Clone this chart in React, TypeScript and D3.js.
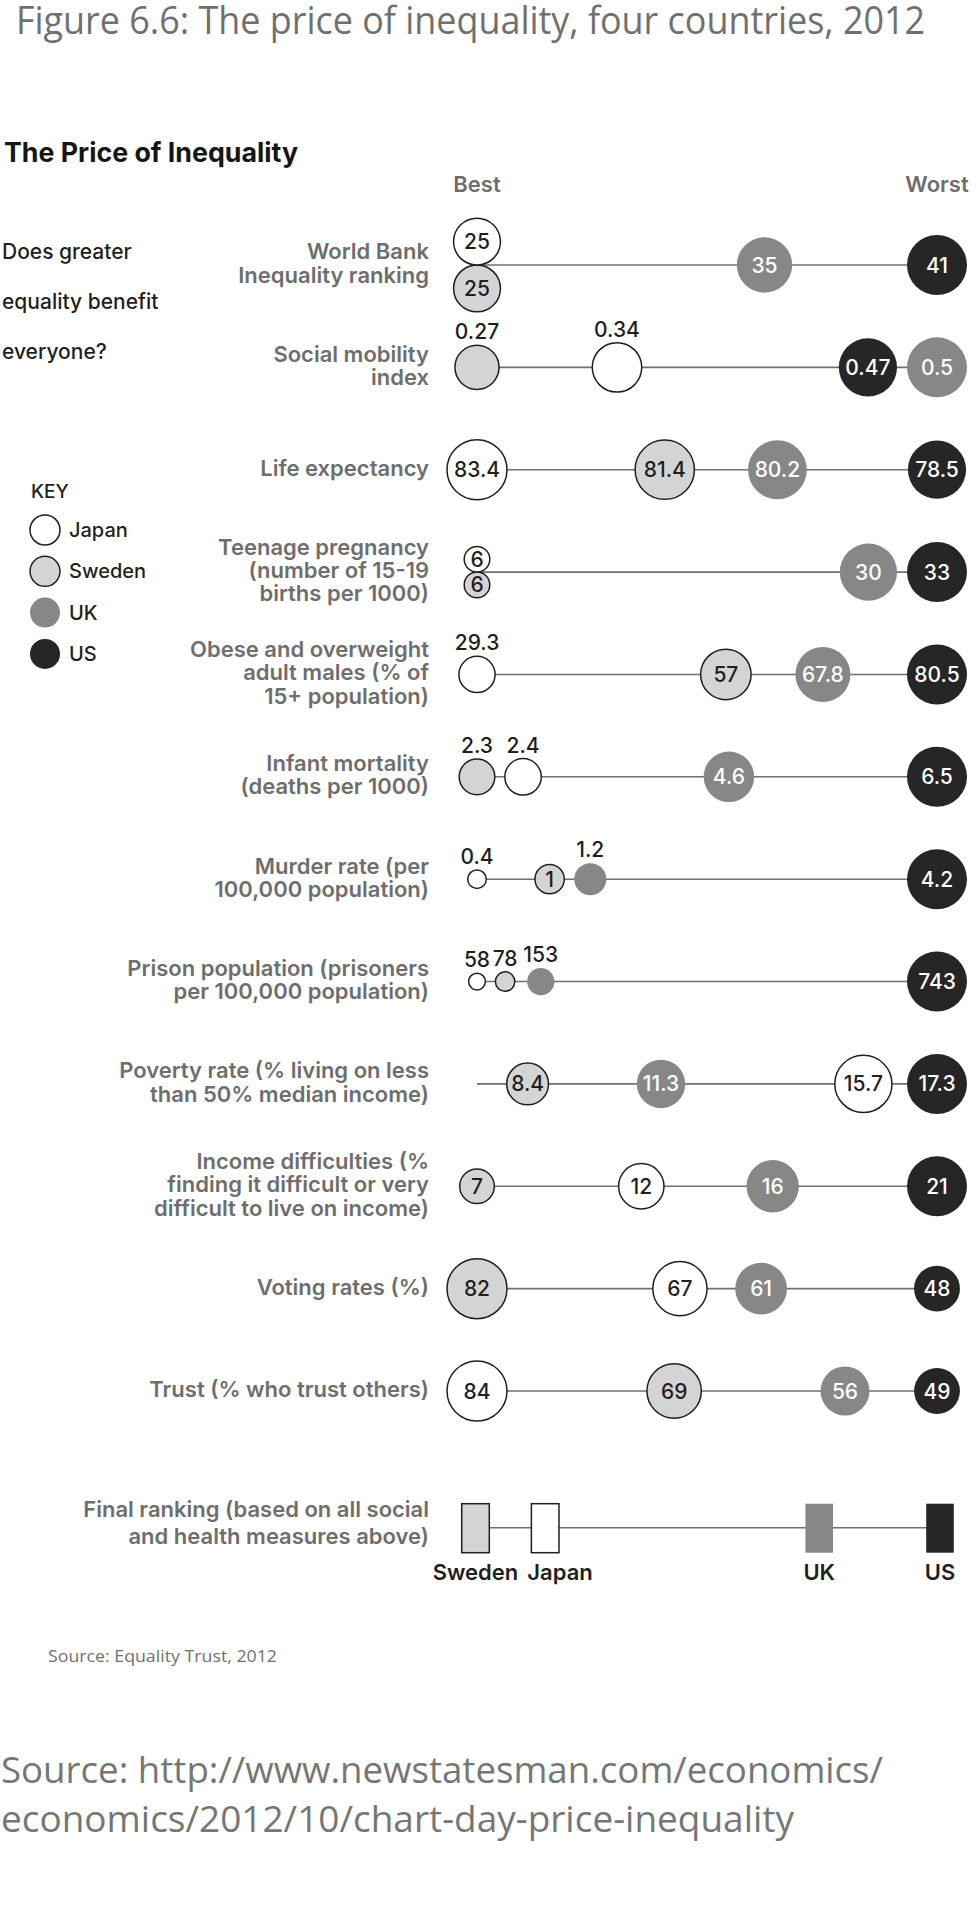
import { useEffect, useRef } from "react";
import * as d3 from "d3";

const W = 977;
const H = 1920;

// --- data ---------------------------------------------------------------
const COUNTRIES = ["Japan", "Sweden", "UK", "US"];

const MEASURES = [
  "worldBank", "mobility", "life", "teen", "obese", "infant",
  "murder", "prison", "poverty", "income", "voting", "trust",
];

const MEASURE_LABELS: string[][] = [
  ["World Bank", "Inequality ranking"],
  ["Social mobility", "index"],
  ["Life expectancy"],
  ["Teenage pregnancy", "(number of 15-19", "births per 1000)"],
  ["Obese and overweight", "adult males (% of", "15+ population)"],
  ["Infant mortality", "(deaths per 1000)"],
  ["Murder rate (per", "100,000 population)"],
  ["Prison population (prisoners", "per 100,000 population)"],
  ["Poverty rate (% living on less", "than 50% median income)"],
  ["Income difficulties (%", "finding it difficult or very", "difficult to live on income)"],
  ["Voting rates (%)"],
  ["Trust (% who trust others)"],
];

const JAPAN  = [25, 0.34, 83.4, 6, 29.3, 2.4, 0.4, 58, 15.7, 12, 67, 84];
const SWEDEN = [25, 0.27, 81.4, 6, 57, 2.3, 1, 78, 8.4, 7, 82, 69];
const UK     = [35, 0.5, 80.2, 30, 67.8, 4.6, 1.2, 153, 11.3, 16, 61, 56];
const US     = [41, 0.47, 78.5, 33, 80.5, 6.5, 4.2, 743, 17.3, 21, 48, 49];

const HIGHER_IS_BETTER = ["life", "voting", "trust"];
// the poverty line starts a bit before Sweden's 8.4
const AXIS_BEST: Record<string, number> = { poverty: 7.3 };

const FINAL_LABEL = ["Final ranking (based on all social", "and health measures above)"];
// rough composite position of each country (Japan, Sweden, UK, US), 0 = best
const FINAL_SCORE = [15, 0, 74, 100];

const QUESTION = ["Does greater", "equality benefit", "everyone?"];

// --- styles -------------------------------------------------------------
const FILL: Record<string, string> = { Japan: "#ffffff", Sweden: "#d4d4d4", UK: "#878787", US: "#262626" };
const STROKE: Record<string, string> = { Japan: "#1f1f1f", Sweden: "#1f1f1f", UK: "none", US: "none" };
const INK: Record<string, string> = { Japan: "#1f1f1f", Sweden: "#1f1f1f", UK: "#ffffff", US: "#ffffff" };
const DRAW_ORDER = ["Sweden", "Japan", "UK", "US"];

const SANS = "Inter, 'Noto Sans', sans-serif";
const MYRIAD = "'Open Sans', 'Noto Sans', sans-serif";
const GREY = "#6e6e6e";
const DARK = "#1f1f1f";

const X0 = 477;
const X1 = 937;
const R_MAX = 30;
const LABEL_RIGHT = 429;
const NUM_SIZE = 21;
const GAP = 10;

// approximate width of a number string at NUM_SIZE
const numWidth = (s: string) =>
  d3.sum(s.split(""), (c) => (c === "1" ? 0.42 : c === "." ? 0.27 : 0.6)) * NUM_SIZE;

function draw(el: SVGSVGElement) {
  const svg = d3.select(el);
  svg.selectAll("*").remove();

  svg.append("rect").attr("width", W).attr("height", H).attr("fill", "#fff");

  // headings
  svg.append("text")
    .attr("x", 16).attr("y", 34)
    .attr("font-family", MYRIAD).attr("font-size", 38).attr("fill", "#707070")
    .attr("textLength", 909).attr("lengthAdjust", "spacingAndGlyphs")
    .text("Figure 6.6: The price of inequality, four countries, 2012");

  svg.append("text")
    .attr("x", 4).attr("y", 161.7)
    .attr("font-family", SANS).attr("font-size", 27).attr("font-weight", 700).attr("fill", "#161616")
    .attr("textLength", 294).attr("lengthAdjust", "spacingAndGlyphs")
    .text("The Price of Inequality");

  [["Best", X0], ["Worst", X1]].forEach(([t, x]) => {
    svg.append("text")
      .attr("x", x as number).attr("y", 192)
      .attr("text-anchor", "middle")
      .attr("font-family", SANS).attr("font-size", 22).attr("font-weight", 600).attr("fill", GREY)
      .text(t as string);
  });

  QUESTION.forEach((t, i) => {
    svg.append("text")
      .attr("x", 2).attr("y", 259 + i * 50)
      .attr("font-family", SANS).attr("font-size", 21).attr("font-weight", 500).attr("fill", DARK)
      .text(t);
  });

  // key
  svg.append("text")
    .attr("x", 31).attr("y", 498)
    .attr("font-family", SANS).attr("font-size", 19).attr("font-weight", 500).attr("fill", DARK)
    .text("KEY");
  COUNTRIES.forEach((c, i) => {
    const cy = 530 + i * 41.3;
    svg.append("circle")
      .attr("cx", 45).attr("cy", cy).attr("r", 15)
      .attr("fill", FILL[c]).attr("stroke", STROKE[c]).attr("stroke-width", 1.5);
    svg.append("text")
      .attr("x", 69).attr("y", cy + 7)
      .attr("font-family", SANS).attr("font-size", 20).attr("font-weight", 500).attr("fill", DARK)
      .text(c);
  });

  // rows
  const yRow = d3.scalePoint<string>().domain(MEASURES).range([265, 1391]);

  const rowLabel = (lines: string[], cy: number, lineH: number) => {
    lines.forEach((t, i) => {
      svg.append("text")
        .attr("x", LABEL_RIGHT)
        .attr("y", cy - ((lines.length - 1) * lineH) / 2 + 6 + i * lineH)
        .attr("text-anchor", "end")
        .attr("font-family", SANS).attr("font-size", 22).attr("font-weight", 600).attr("fill", GREY)
        .text(t);
    });
  };

  MEASURES.forEach((key, mi) => {
    const vals = [JAPAN[mi], SWEDEN[mi], UK[mi], US[mi]];
    const hib = HIGHER_IS_BETTER.includes(key);
    const [lo, hi] = d3.extent(vals) as [number, number];
    const best = AXIS_BEST[key] ?? (hib ? hi : lo);
    const worst = hib ? lo : hi;
    const x = d3.scaleLinear().domain([best, worst]).range([X0, X1]);
    const r = d3.scaleSqrt().domain([0, hi]).range([0, R_MAX]);
    const cy = yRow(key) as number;

    rowLabel(MEASURE_LABELS[mi], cy, 23.3);

    svg.append("line")
      .attr("x1", X0).attr("x2", X1).attr("y1", cy).attr("y2", cy)
      .attr("stroke", "#707070").attr("stroke-width", 1.6);

    const nodes = COUNTRIES.map((c, i) => ({ c, v: vals[i], x: x(vals[i]), y: cy, r: r(vals[i]) }));

    // equal values share a spot, stacked above/below the line
    const groups = d3.groups(nodes, (d) => d.v)
      .map(([v, ns]) => ({ v, ns, x: x(v), r: d3.max(ns, (n) => n.r) as number }))
      .sort((a, b) => a.x - b.x);
    groups.forEach((g) => {
      if (g.ns.length > 1) g.ns.forEach((n, k) => (n.y = cy + (k === 0 ? -n.r : n.r)));
    });

    // keep neighbouring circles from overlapping
    for (let i = 1; i < groups.length; i++) {
      const min = groups[i - 1].x + groups[i - 1].r + groups[i].r + GAP;
      if (groups[i].x < min) groups[i].x = min;
    }
    const last = groups[groups.length - 1];
    if (last.x > X1) last.x = X1;
    for (let i = groups.length - 2; i >= 0; i--) {
      const max = groups[i + 1].x - groups[i + 1].r - groups[i].r - GAP;
      if (groups[i].x > max) groups[i].x = max;
    }
    groups.forEach((g) => g.ns.forEach((n) => (n.x = g.x)));

    DRAW_ORDER.forEach((c) => {
      const n = nodes.find((d) => d.c === c)!;
      svg.append("circle")
        .attr("cx", n.x).attr("cy", n.y).attr("r", n.r)
        .attr("fill", FILL[c]).attr("stroke", STROKE[c]).attr("stroke-width", 1.5);
      const label = String(n.v);
      const inside = 2 * n.r - numWidth(label) >= 8;
      svg.append("text")
        .attr("x", n.x)
        .attr("y", inside ? n.y : n.y - n.r - 6)
        .attr("dy", inside ? "0.36em" : 0)
        .attr("text-anchor", "middle")
        .attr("font-family", SANS).attr("font-size", NUM_SIZE).attr("font-weight", 500)
        .attr("fill", inside ? INK[c] : DARK)
        .text(label);
    });
  });

  // final ranking
  const yFinal = 1527.7;
  const xF = d3.scaleLinear().domain([0, 100]).range([X0 - 1.5, X1 + 3]);
  rowLabel(FINAL_LABEL, yFinal - 3, 26.5);

  svg.append("line")
    .attr("x1", X0).attr("x2", X1 + 3).attr("y1", yFinal).attr("y2", yFinal)
    .attr("stroke", "#707070").attr("stroke-width", 1.6);

  const finals = COUNTRIES.map((c, i) => ({ c, x: xF(FINAL_SCORE[i]) })).sort((a, b) => a.x - b.x);
  finals.forEach(({ c, x }) => {
    svg.append("rect")
      .attr("x", x - 13.8).attr("y", yFinal - 24).attr("width", 27.6).attr("height", 49)
      .attr("fill", FILL[c]).attr("stroke", STROKE[c]).attr("stroke-width", 1.5);
  });

  let prevRight = -Infinity;
  finals.forEach(({ c, x }) => {
    const t = svg.append("text")
      .attr("y", 1580)
      .attr("font-family", SANS).attr("font-size", 22).attr("font-weight", 600).attr("fill", DARK)
      .text(c);
    const w = (t.node() as SVGTextElement).getComputedTextLength();
    let left = x - w / 2;
    if (left < prevRight + 9) left = prevRight + 9;
    t.attr("x", left);
    prevRight = left + w;
  });

  // sources
  svg.append("text")
    .attr("x", 48).attr("y", 1661.7)
    .attr("font-family", MYRIAD).attr("font-size", 17).attr("fill", "#707070")
    .attr("textLength", 229).attr("lengthAdjust", "spacingAndGlyphs")
    .text("Source: Equality Trust, 2012");

  [
    ["Source: http://www.newstatesman.com/economics/", 1783, 882],
    ["economics/2012/10/chart-day-price-inequality", 1831.7, 793],
  ].forEach(([t, y, len]) => {
    svg.append("text")
      .attr("x", 1).attr("y", y as number)
      .attr("font-family", MYRIAD).attr("font-size", 37).attr("fill", "#767676")
      .attr("textLength", len as number).attr("lengthAdjust", "spacingAndGlyphs")
      .text(t as string);
  });
}

export default function App() {
  const ref = useRef<SVGSVGElement>(null);

  useEffect(() => {
    if (ref.current) draw(ref.current);
  }, []);

  return (
    <div style={{ position: "absolute", left: 0, top: 0 }}>
      <svg ref={ref} width={W} height={H} style={{ display: "block" }} />
    </div>
  );
}
